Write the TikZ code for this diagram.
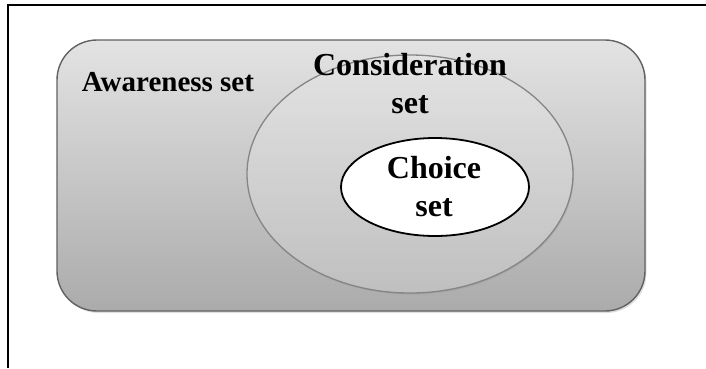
\documentclass[tikz,border=0pt]{standalone}
\usepackage{fontspec}
\setmainfont{Liberation Serif}
\usetikzlibrary{shadows}

\begin{document}
\begin{tikzpicture}[x=1pt, y=-1pt,
  frame/.style={draw=black, line width=2.4pt},
  awarebox/.style={draw=black!62, line width=1.4pt, rounded corners=40pt,
    top color=black!11, bottom color=black!33,
    drop shadow={opacity=0.25, shadow xshift=1.5pt, shadow yshift=-2pt}},
  considerv/.style={draw=black!48, line width=1.3pt,
    top color=black!11, bottom color=black!25,
    drop shadow={opacity=0.2, shadow xshift=1pt, shadow yshift=-1.5pt}},
  choicev/.style={draw=black, line width=1.8pt, fill=white},
  lbl/.style={font=\bfseries\fontsize{32}{38}\selectfont, align=center, inner sep=0pt}
]
\useasboundingbox (0,0) rectangle (706,368);

% --- partial black frame (left and top edges only) ---
\coordinate (fbl) at (8,368);
\coordinate (ftl) at (8,5);
\coordinate (ftr) at (706,5);
\draw[frame] (fbl) -- (ftl) -- (ftr);

% --- awareness set ---
\draw[awarebox] (57,40) rectangle (645,311);

% --- consideration set ---
\draw[considerv] (410,174) ellipse [x radius=163, y radius=119];

% --- choice set ---
\draw[choicev] (435,187) ellipse [x radius=94, y radius=49];

% --- labels ---
\node[lbl, font=\bfseries\fontsize{29}{35}\selectfont, anchor=base] (aware) at (168,91) {Awareness set};
\node[lbl, anchor=north] (consider) at (410,53) {Consideration\\set};
\node[lbl, anchor=north] (choice) at (434,156) {Choice\\set};

\end{tikzpicture}
\end{document}
